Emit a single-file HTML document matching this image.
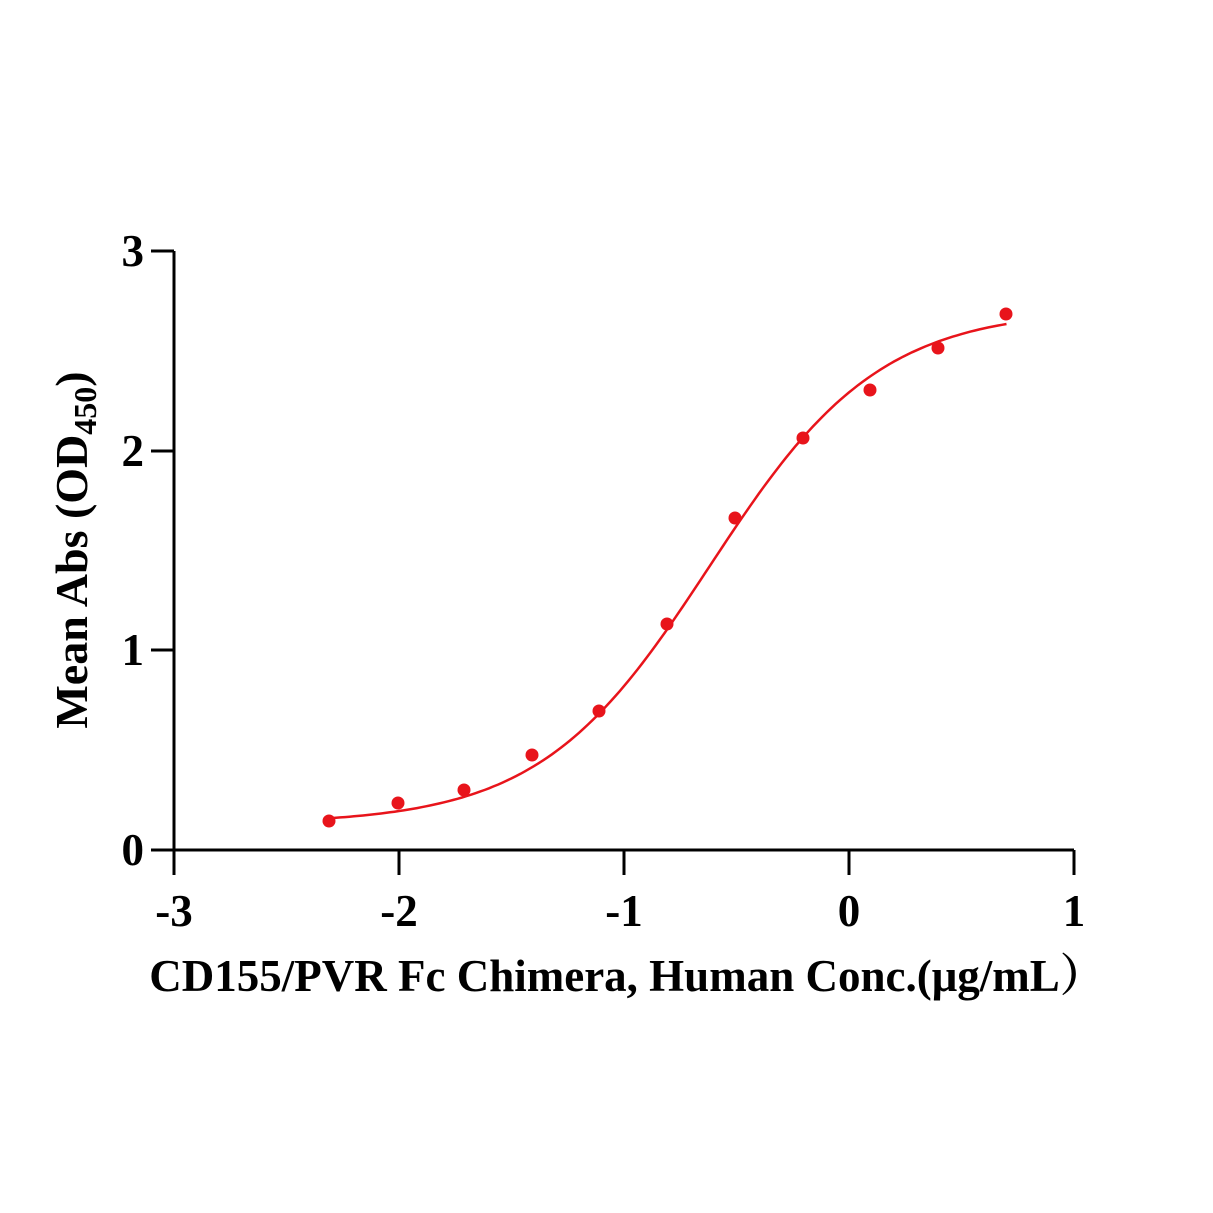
<!DOCTYPE html>
<html><head><style>html,body{margin:0;padding:0;background:#fff}</style></head><body>
<svg width="1213" height="1213" xmlns="http://www.w3.org/2000/svg" style="display:block">
<rect width="1213" height="1213" fill="#fff"/>
<g stroke="#000" stroke-width="3" fill="none">
<line x1="174" y1="251" x2="174" y2="875"/>
<line x1="151" y1="850" x2="1074" y2="850"/>
<line x1="151" y1="251" x2="174" y2="251"/>
<line x1="151" y1="451" x2="174" y2="451"/>
<line x1="151" y1="650" x2="174" y2="650"/>
<line x1="399" y1="850" x2="399" y2="875"/>
<line x1="624" y1="850" x2="624" y2="875"/>
<line x1="849" y1="850" x2="849" y2="875"/>
<line x1="1074" y1="850" x2="1074" y2="875"/>
</g>
<g font-family="Liberation Serif, 'Noto Serif CJK SC', serif" font-weight="bold" font-size="45" fill="#000">
<g text-anchor="end">
<text x="144" y="266">3</text><text x="144" y="466">2</text><text x="144" y="665">1</text><text x="144" y="865">0</text>
</g>
<g text-anchor="middle">
<text x="174" y="926">-3</text><text x="399" y="926">-2</text><text x="624" y="926">-1</text><text x="849" y="926">0</text><text x="1074" y="926">1</text>
</g>
<text x="627" y="991" text-anchor="middle" font-size="45">CD155/PVR Fc Chimera, Human Conc.(μg/mL）</text>
<text transform="translate(87,550) rotate(-90)" text-anchor="middle" font-size="46">Mean Abs (OD<tspan font-size="32" dy="9">450</tspan><tspan dy="-9">)</tspan></text>
</g>
<path id="c" fill="none" stroke="#e8141b" stroke-width="2.5"/>
<g fill="#e8141b">
<circle cx="329" cy="821" r="6.5"/><circle cx="398" cy="803" r="6.5"/><circle cx="464" cy="790" r="6.5"/>
<circle cx="532" cy="755" r="6.5"/><circle cx="599" cy="711" r="6.5"/><circle cx="667" cy="624" r="6.5"/>
<circle cx="735" cy="518" r="6.5"/><circle cx="803" cy="438" r="6.5"/><circle cx="870" cy="390" r="6.5"/>
<circle cx="938" cy="348" r="6.5"/><circle cx="1006" cy="314" r="6.5"/>
</g>
<script>
var d="";for(var i=0;i<=150;i++){var x=-2.3+3*i/150;var y=0.13+2.58/(1+Math.pow(10,(-0.62-x)*1.15));
var px=174+(x+3)*225,py=850-y*199.7;d+=(i?"L":"M")+px.toFixed(1)+" "+py.toFixed(1);}
document.getElementById("c").setAttribute("d",d);
</script>
</svg>
</body></html>
